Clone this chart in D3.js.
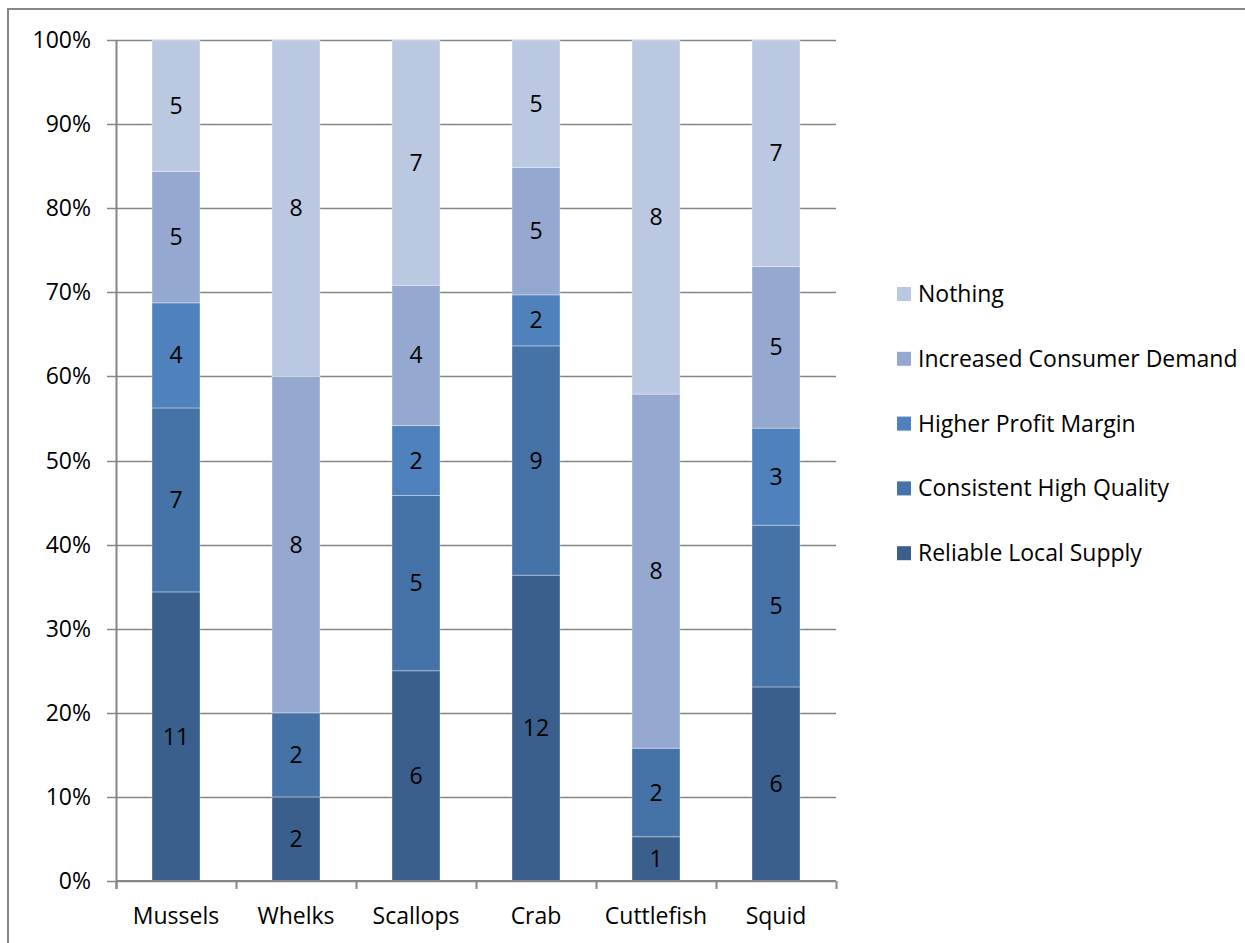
<!DOCTYPE html>
<html>
<head>
<meta charset="utf-8">
<script src="https://cdn.jsdelivr.net/npm/d3@7"></script>
<style>
  html, body { margin: 0; padding: 0; background: #fff; }
  svg text { font-family: "Open Sans", Lato, sans-serif; fill: #000; }
</style>
</head>
<body>
<svg id="chart" width="1245" height="943"></svg>
<script>
// Species surveyed
const categories = ["Mussels", "Whelks", "Scallops", "Crab", "Cuttlefish", "Squid"];

// Response counts per species, bottom of the stack first
const reliableLocalSupply      = [11, 2, 6, 12, 1, 6];
const consistentHighQuality    = [7, 2, 5, 9, 2, 5];
const higherProfitMargin       = [4, 0, 2, 2, 0, 3];
const increasedConsumerDemand  = [5, 8, 4, 5, 8, 5];
const nothing                  = [5, 8, 7, 5, 8, 7];

const seriesNames = ["Reliable Local Supply", "Consistent High Quality", "Higher Profit Margin", "Increased Consumer Demand", "Nothing"];
const seriesValues = [reliableLocalSupply, consistentHighQuality, higherProfitMargin, increasedConsumerDemand, nothing];
const seriesColors = ["#3B5F8D", "#4572A7", "#4F81BD", "#95A9D0", "#BBC8E1"];

const yTicks = [0, 0.1, 0.2, 0.3, 0.4, 0.5, 0.6, 0.7, 0.8, 0.9, 1.0];

const FONT = 23;

const svg = d3.select("#chart");

// outer chart frame
svg.append("rect")
  .attr("x", 8).attr("y", 9)
  .attr("width", 1300).attr("height", 1000)
  .attr("fill", "none").attr("stroke", "#878787").attr("stroke-width", 2);

const plot = { left: 116, right: 836, top: 40, bottom: 881 };

const x = d3.scaleBand().domain(categories).range([plot.left, plot.right]).paddingInner(0.6).paddingOuter(0.3);
const xBand = d3.scaleBand().domain(categories).range([plot.left, plot.right]);
const y = d3.scaleLinear().domain([0, 1]).range([plot.bottom, plot.top]);

// rows for the stack, normalised to shares of each species' total
const rows = categories.map((c, i) => {
  const row = { category: c };
  const total = d3.sum(seriesValues, s => s[i]);
  seriesNames.forEach((n, k) => { row[n] = seriesValues[k][i] / total; row[n + "_count"] = seriesValues[k][i]; });
  return row;
});
const stacked = d3.stack().keys(seriesNames)(rows);

// horizontal gridlines
svg.append("g").selectAll("line").data(yTicks).join("line")
  .attr("x1", plot.left - 9).attr("x2", plot.right)
  .attr("y1", d => Math.round(y(d)) + 0.5).attr("y2", d => Math.round(y(d)) + 0.5)
  .attr("stroke", "#868686").attr("stroke-width", 1.5);

// y tick labels
svg.append("g").selectAll("text").data(yTicks).join("text")
  .attr("x", 91).attr("y", d => y(d))
  .attr("dy", "0.35em").attr("text-anchor", "end")
  .attr("font-size", FONT)
  .text(d => d3.format(".0%")(d));

// bars
const layer = svg.append("g").selectAll("g").data(stacked).join("g")
  .attr("fill", (d, i) => seriesColors[i]);
layer.selectAll("rect").data(d => d).join("rect")
  .attr("x", d => x(d.data.category))
  .attr("width", x.bandwidth())
  .attr("y", d => y(d[1]))
  .attr("height", d => y(d[0]) - y(d[1]))
  .attr("stroke", "rgba(255,255,255,0.35)").attr("stroke-width", 1);

// value labels
stacked.forEach(s => {
  svg.append("g").selectAll("text").data(s.filter(d => d.data[s.key + "_count"] > 0)).join("text")
    .attr("x", d => x(d.data.category) + x.bandwidth() / 2)
    .attr("y", d => (y(d[0]) + y(d[1])) / 2)
    .attr("dy", "0.35em").attr("text-anchor", "middle")
    .attr("font-size", FONT)
    .text(d => d.data[s.key + "_count"]);
});

// y axis line
svg.append("line")
  .attr("x1", plot.left + 0.5).attr("x2", plot.left + 0.5)
  .attr("y1", plot.top).attr("y2", plot.bottom + 8)
  .attr("stroke", "#868686").attr("stroke-width", 2);

// x axis with category ticks
const xAxis = svg.append("g").attr("transform", `translate(0,${plot.bottom})`);
xAxis.append("line").attr("x1", plot.left).attr("x2", plot.right)
  .attr("stroke", "#868686").attr("stroke-width", 2);
const tickXs = categories.map(c => xBand(c)).concat([plot.right]);
xAxis.selectAll("line.tick").data(tickXs).join("line").attr("class", "tick")
  .attr("x1", d => d + 0.5).attr("x2", d => d + 0.5)
  .attr("y1", 0).attr("y2", 8)
  .attr("stroke", "#868686").attr("stroke-width", 2);
xAxis.selectAll("text").data(categories).join("text")
  .attr("x", d => xBand(d) + xBand.bandwidth() / 2)
  .attr("y", 35)
  .attr("dy", "0.35em")
  .attr("text-anchor", "middle").attr("font-size", FONT)
  .text(d => d);

// legend, top entry is the top of the stack
const legendOrder = seriesNames.map((n, i) => ({ name: n, color: seriesColors[i] })).reverse();
const legend = svg.append("g").selectAll("g").data(legendOrder).join("g")
  .attr("transform", (d, i) => `translate(897,${294 + i * 64.8})`);
legend.append("rect").attr("x", 0).attr("y", -7).attr("width", 14).attr("height", 14)
  .attr("fill", d => d.color);
legend.append("text").attr("x", 21).attr("y", 0).attr("dy", "0.35em")
  .attr("font-size", FONT).text(d => d.name);
</script>
</body>
</html>
